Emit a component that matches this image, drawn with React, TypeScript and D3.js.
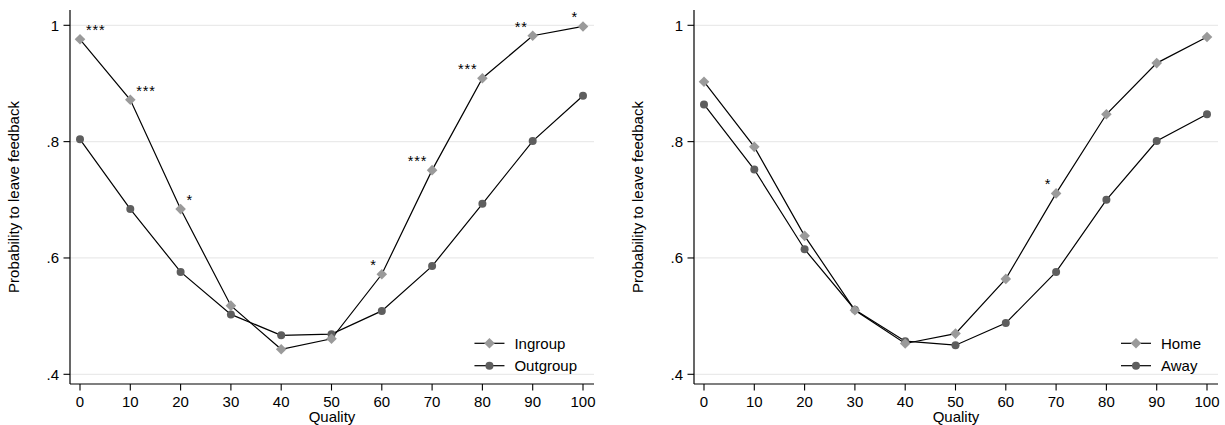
import * as d3 from "d3";

const qualities = [0, 10, 20, 30, 40, 50, 60, 70, 80, 90, 100];
const ingroup = [0.976, 0.872, 0.684, 0.518, 0.443, 0.461, 0.572, 0.751, 0.909, 0.982, 0.998];
const outgroup = [0.804, 0.684, 0.576, 0.503, 0.467, 0.469, 0.509, 0.586, 0.693, 0.801, 0.879];
const ingroupStars = ["***", "***", "*", "", "", "", "*", "***", "***", "**", "*"];
const home = [0.903, 0.791, 0.638, 0.510, 0.453, 0.470, 0.564, 0.711, 0.847, 0.935, 0.980];
const away = [0.864, 0.752, 0.615, 0.511, 0.457, 0.450, 0.488, 0.576, 0.700, 0.801, 0.847];
const homeStars = ["", "", "", "", "", "", "", "*", "", "", ""];
const yTicks = [0.4, 0.6, 0.8, 1];
const yTickLabels = [".4", ".6", ".8", "1"];

const FONT = "'Liberation Sans', Arial, Helvetica, sans-serif";
const LIGHT = "#9a9a9a";
const DARK = "#5e5e5e";

function textWidth(s: string, size: number) {
  const ctx = document.createElement("canvas").getContext("2d");
  if (!ctx) return s.length * size * 0.55;
  ctx.font = `${size}px 'Liberation Sans', Arial`;
  return ctx.measureText(s).width;
}

function Diamond({ x, y }: { x: number; y: number }) {
  const r = 5.3;
  return <path d={`M${x},${y - r}L${x + r},${y}L${x},${y + r}L${x - r},${y}Z`} fill={LIGHT} />;
}

function Dot({ x, y }: { x: number; y: number }) {
  return <circle cx={x} cy={y} r={4} fill={DARK} />;
}

function Panel({ left, a, b, stars, names }: {
  left: number; a: number[]; b: number[]; stars: string[]; names: [string, string];
}) {
  const axisX = left;
  const plotRight = left + 524;
  const x = d3.scaleLinear().domain([0, 100]).range([left + 10, left + 513]);
  const y = d3.scaleLinear().domain([0.4, 1]).range([374.3, 25.3]);
  const top = 10, bottom = 384;
  const line = d3.line<number>().x((_, i) => x(qualities[i])).y(d => y(d));

  const legW = Math.max(textWidth(names[0], 15), textWidth(names[1], 15));
  const legTextX = plotRight - 17 - legW;
  const legLine0 = legTextX - 40;
  const legRows = [343.3, 365.7];

  return (
    <g fontFamily={FONT}>
      {yTicks.map(t => (
        <line key={t} x1={axisX} x2={plotRight} y1={y(t)} y2={y(t)} stroke="#eaeaea" strokeWidth={1.2} />
      ))}
      <line x1={axisX} x2={axisX} y1={top} y2={bottom} stroke="#000" strokeWidth={1.2} />
      <line x1={axisX} x2={plotRight} y1={bottom} y2={bottom} stroke="#000" strokeWidth={1.2} />
      {yTicks.map((t, i) => (
        <g key={t}>
          <line x1={axisX - 6.5} x2={axisX} y1={y(t)} y2={y(t)} stroke="#000" strokeWidth={1.1} />
          <text x={axisX - 11} y={y(t) + 5.4} textAnchor="end" fontSize={15}>{yTickLabels[i]}</text>
        </g>
      ))}
      {qualities.map(q => (
        <g key={q}>
          <line x1={x(q)} x2={x(q)} y1={bottom} y2={bottom + 6.5} stroke="#000" strokeWidth={1.1} />
          <text x={x(q)} y={406.8} textAnchor="middle" fontSize={15}>{q}</text>
        </g>
      ))}
      <text x={(axisX + plotRight) / 2} y={421.5} textAnchor="middle" fontSize={15}>Quality</text>
      <text transform={`translate(${axisX - 51},${(top + bottom) / 2}) rotate(-90)`} textAnchor="middle" fontSize={15}>
        Probability to leave feedback
      </text>

      <path d={line(a) ?? ""} fill="none" stroke="#000" strokeWidth={1.2} />
      <path d={line(b) ?? ""} fill="none" stroke="#000" strokeWidth={1.2} />
      {b.map((v, i) => <Dot key={i} x={x(qualities[i])} y={y(v)} />)}
      {a.map((v, i) => <Diamond key={i} x={x(qualities[i])} y={y(v)} />)}
      {stars.map((s, i) => s ? (
        <text key={i}
          x={x(qualities[i]) + (qualities[i] < 50 ? 6 : -5)}
          y={y(a[i]) - 4}
          textAnchor={qualities[i] < 50 ? "start" : "end"}
          letterSpacing={0.8}
          fontSize={14.5}>{s}</text>
      ) : null)}

      {names.map((n, i) => (
        <g key={n}>
          <line x1={legLine0} x2={legLine0 + 30} y1={legRows[i]} y2={legRows[i]} stroke="#000" strokeWidth={1.2} />
          {i === 0 ? <Diamond x={legLine0 + 15} y={legRows[i]} /> : <Dot x={legLine0 + 15} y={legRows[i]} />}
          <text x={legTextX} y={legRows[i] + 5.4} fontSize={15}>{n}</text>
        </g>
      ))}
    </g>
  );
}

export default function App() {
  return (
    <svg width={1225} height={425} style={{ position: "absolute", left: 0, top: 0, background: "#fff" }}>
      <rect width={1225} height={425} fill="#fff" />
      <Panel left={70} a={ingroup} b={outgroup} stars={ingroupStars} names={["Ingroup", "Outgroup"]} />
      <Panel left={694} a={home} b={away} stars={homeStars} names={["Home", "Away"]} />
    </svg>
  );
}
